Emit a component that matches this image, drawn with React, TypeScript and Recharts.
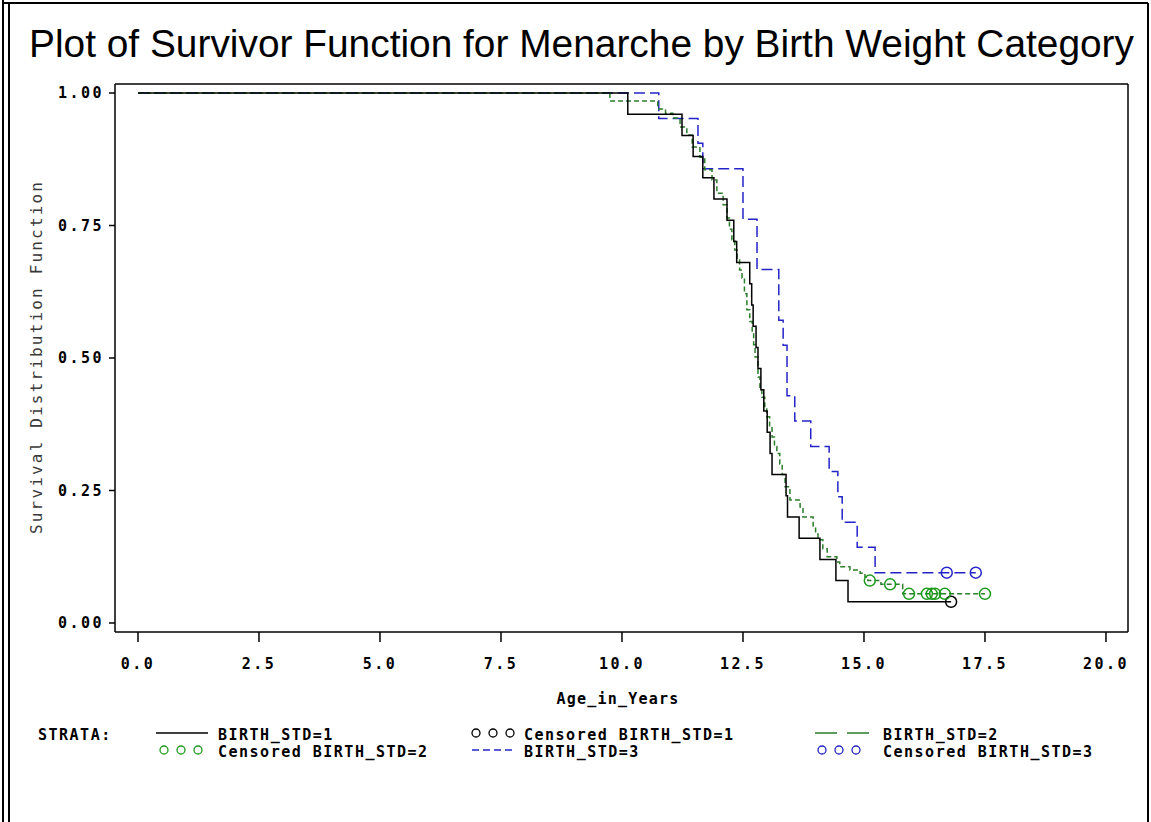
import { ComposedChart, Line, Scatter, XAxis, YAxis, ReferenceLine } from 'recharts';

const xTicks = [0, 2.5, 5, 7.5, 10, 12.5, 15, 17.5, 20];
const yTicks = [0, 0.25, 0.5, 0.75, 1];

// BIRTH_STD=1
const std1Time = [0, 10.12, 11.24, 11.47, 11.67, 11.9, 12.17, 12.31, 12.37, 12.64, 12.68, 12.71, 12.77, 12.81, 12.87, 12.93, 13.0, 13.06, 13.1, 13.39, 13.42, 13.66, 14.09, 14.42, 14.67, 16.8];
const std1Surv = [1, 0.96, 0.92, 0.88, 0.84, 0.8, 0.76, 0.72, 0.68, 0.64, 0.6, 0.56, 0.52, 0.48, 0.44, 0.4, 0.36, 0.32, 0.28, 0.24, 0.2, 0.16, 0.12, 0.08, 0.04, 0.04];
const std1CensTime = [16.8];
const std1CensSurv = [0.04];

// BIRTH_STD=2
const std2Time = [0, 9.75, 10.74, 10.9, 11.05, 11.2, 11.34, 11.45, 11.61, 11.71, 11.86, 11.96, 12.09, 12.17, 12.22, 12.27, 12.33, 12.38, 12.43, 12.48, 12.53, 12.58, 12.64, 12.69, 12.72, 12.75, 12.81, 12.85, 12.89, 12.95, 12.99, 13.05, 13.1, 13.15, 13.2, 13.26, 13.31, 13.37, 13.47, 13.68, 13.74, 13.95, 14.0, 14.05, 14.15, 14.24, 14.44, 14.5, 14.71, 14.92, 15.02, 15.08, 15.35, 15.8, 17.5];
const std2Surv = [1, 0.985, 0.97, 0.962, 0.953, 0.936, 0.921, 0.898, 0.879, 0.855, 0.836, 0.811, 0.789, 0.764, 0.743, 0.723, 0.704, 0.685, 0.666, 0.651, 0.621, 0.591, 0.569, 0.547, 0.525, 0.502, 0.464, 0.445, 0.426, 0.407, 0.389, 0.37, 0.351, 0.333, 0.32, 0.3, 0.28, 0.257, 0.232, 0.219, 0.2, 0.181, 0.168, 0.157, 0.14, 0.125, 0.115, 0.106, 0.1, 0.094, 0.087, 0.08, 0.073, 0.055, 0.055];
const std2CensTime = [15.12, 15.54, 15.93, 16.3, 16.4, 16.47, 16.67, 17.5];
const std2CensSurv = [0.08, 0.073, 0.055, 0.055, 0.055, 0.055, 0.055, 0.055];

// BIRTH_STD=3
const std3Time = [0, 10.76, 11.57, 11.67, 12.5, 12.79, 13.24, 13.33, 13.41, 13.57, 13.9, 14.28, 14.46, 14.55, 14.86, 15.23, 17.31];
const std3Surv = [1, 0.952, 0.905, 0.857, 0.762, 0.667, 0.571, 0.524, 0.429, 0.381, 0.333, 0.286, 0.238, 0.19, 0.143, 0.095, 0.095];
const std3CensTime = [16.71, 17.31];
const std3CensSurv = [0.095, 0.095];

const BLACK = '#000000';
const GREEN = '#2a7d2a';
const GREEN_MARK = '#1e9a1e';
const BLUE = '#2424c8';

const toRows = (t: number[], s: number[]) => t.map((v, i) => ({ t: v, s: s[i] }));

const X_MIN = -0.475;
const X_MAX = 20.455;
const Y_MIN = -0.017;
const Y_MAX = 1.017;

const monoFont = '"DejaVu Sans Mono", monospace';

const ring = (color: string) => (props: any) => (
  <circle cx={props.cx} cy={props.cy} r={5.5} fill="none" stroke={color} strokeWidth={1.5} />
);

function Legend() {
  const txt = { fontFamily: monoFont, fontSize: 15, fontWeight: 700, letterSpacing: 1.5, fill: '#000' } as const;
  const circles = (x: number, y: number, color: string) => (
    <g>
      {[0, 17, 34].map((d) => (
        <circle key={d} cx={x + 4 + d} cy={y} r={4} fill="none" stroke={color} strokeWidth={1.3} />
      ))}
    </g>
  );
  const r1 = 735;
  const r2 = 752;
  return (
    <g>
      <text x={38} y={r1 + 5} {...txt}>STRATA:</text>

      <line x1={156} y1={r1 - 2} x2={208} y2={r1 - 2} stroke={BLACK} strokeWidth={1.3} />
      <text x={218} y={r1 + 5} {...txt}>BIRTH_STD=1</text>
      {circles(160, r2 - 2, GREEN_MARK)}
      <text x={218} y={r2 + 5} {...txt}>Censored BIRTH_STD=2</text>

      {circles(472, r1 - 2, BLACK)}
      <text x={524} y={r1 + 5} {...txt}>Censored BIRTH_STD=1</text>
      <line x1={472} y1={r2 - 2} x2={516} y2={r2 - 2} stroke={BLUE} strokeWidth={1.3} strokeDasharray="7 4" />
      <text x={524} y={r2 + 5} {...txt}>BIRTH_STD=3</text>

      <line x1={815} y1={r1 - 2} x2={869} y2={r1 - 2} stroke={GREEN} strokeWidth={1.5} strokeDasharray="22 10" />
      <text x={883} y={r1 + 5} {...txt}>BIRTH_STD=2</text>
      {circles(818, r2 - 2, BLUE)}
      <text x={883} y={r2 + 5} {...txt}>Censored BIRTH_STD=3</text>
    </g>
  );
}

export default function App() {
  const tickStyle = { fontFamily: monoFont, fontSize: 15, fontWeight: 700, fill: '#000', letterSpacing: 2.5 };

  return (
    <div style={{ position: 'absolute', left: 0, top: 0, width: 1151, height: 822, background: '#fff' }}>
      <ComposedChart
        width={1151}
        height={822}
        margin={{ top: 84, right: 23, bottom: 150, left: 0 }}
      >
        <XAxis
          type="number"
          dataKey="t"
          domain={[X_MIN, X_MAX]}
          ticks={xTicks}
          allowDataOverflow
          height={40}
          tickSize={10}
          tickMargin={16}
          axisLine={{ stroke: '#000', strokeWidth: 1.5 }}
          tickLine={{ stroke: '#000', strokeWidth: 1.5 }}
          tick={tickStyle}
          tickFormatter={(v: number) => v.toFixed(1)}
        />
        <YAxis
          type="number"
          domain={[Y_MIN, Y_MAX]}
          ticks={yTicks}
          allowDataOverflow
          width={115}
          tickSize={6}
          tickMargin={5}
          axisLine={{ stroke: '#000', strokeWidth: 1.5 }}
          tickLine={{ stroke: '#000', strokeWidth: 1.5 }}
          tick={tickStyle}
          tickFormatter={(v: number) => v.toFixed(2)}
        />
        <ReferenceLine y={Y_MAX} stroke="#000" strokeWidth={1.5} />
        <ReferenceLine x={X_MAX} stroke="#000" strokeWidth={1.5} />

        <Line data={toRows(std3Time, std3Surv)} dataKey="s" type="stepAfter" stroke={BLUE} strokeWidth={1.5} strokeDasharray="11 5" dot={false} isAnimationActive={false} />
        <Line data={toRows(std2Time, std2Surv)} dataKey="s" type="stepAfter" stroke={GREEN} strokeWidth={1.5} strokeDasharray="5 3" dot={false} isAnimationActive={false} />
        <Line data={toRows(std1Time, std1Surv)} dataKey="s" type="stepAfter" stroke={BLACK} strokeWidth={1.5} dot={false} isAnimationActive={false} />

        <Scatter data={toRows(std1CensTime, std1CensSurv)} dataKey="s" shape={ring(BLACK)} isAnimationActive={false} />
        <Scatter data={toRows(std2CensTime, std2CensSurv)} dataKey="s" shape={ring(GREEN_MARK)} isAnimationActive={false} />
        <Scatter data={toRows(std3CensTime, std3CensSurv)} dataKey="s" shape={ring(BLUE)} isAnimationActive={false} />
      </ComposedChart>

      <svg width={1151} height={822} style={{ position: 'absolute', left: 0, top: 0, pointerEvents: 'none' }}>
        <line x1={3} y1={0} x2={3} y2={822} stroke="#000" strokeWidth={2} />
        <line x1={9} y1={3} x2={9} y2={822} stroke="#000" strokeWidth={2} />
        <line x1={3} y1={3} x2={1148} y2={3} stroke="#000" strokeWidth={2} />
        <line x1={1148} y1={3} x2={1148} y2={822} stroke="#000" strokeWidth={2} />

        <text
          x={29}
          y={57}
          fontFamily='"Liberation Sans", Arial, sans-serif'
          fontSize={38}
          fill="#000"
          textLength={1105}
          lengthAdjust="spacingAndGlyphs"
        >
          Plot of Survivor Function for Menarche by Birth Weight Category
        </text>

        <text
          x={0}
          y={0}
          transform="translate(42 358) rotate(-90)"
          textAnchor="middle"
          fontFamily={monoFont}
          fontSize={16}
          fill="#3a3a3a"
          textLength={352}
          lengthAdjust="spacing"
        >
          Survival Distribution Function
        </text>

        <text x={618} y={704} textAnchor="middle" fontFamily={monoFont} fontSize={15} fontWeight={700} letterSpacing={1.2} fill="#000">
          Age_in_Years
        </text>

        <Legend />
      </svg>
    </div>
  );
}
